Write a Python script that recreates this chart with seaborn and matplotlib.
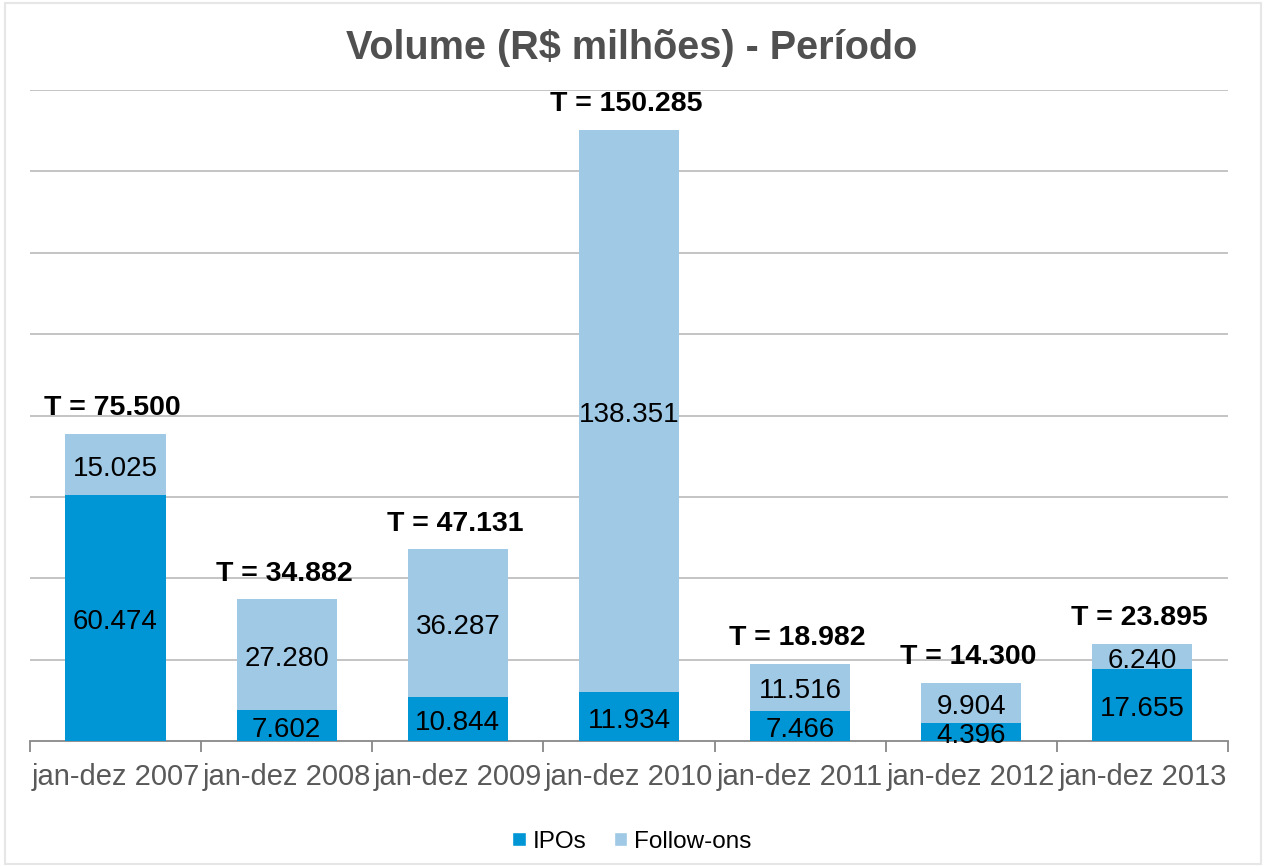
import matplotlib
matplotlib.use("Agg")
import matplotlib.pyplot as plt
import seaborn as sns
import pandas as pd
import numpy as np
from matplotlib.patches import Patch

periods = ["jan-dez 2007", "jan-dez 2008", "jan-dez 2009", "jan-dez 2010",
           "jan-dez 2011", "jan-dez 2012", "jan-dez 2013"]
ipos = [60474, 7602, 10844, 11934, 7466, 4396, 17655]
follow_ons = [15025, 27280, 36287, 138351, 11516, 9904, 6240]
totals = [75500, 34882, 47131, 150285, 18982, 14300, 23895]

IPO_COLOR = "#0096D6"
FOL_COLOR = "#9FC9E5"
GRAY = "#595959"


def fmt(v):
    return f"{v:,.0f}".replace(",", ".")


sns.set_style("white")
plt.rcParams['font.family'] = ['Liberation Sans', 'DejaVu Sans']

df = pd.DataFrame({"period": periods, "ipo": ipos, "fol": follow_ons})
df["stack"] = df["ipo"] + df["fol"]

fig = plt.figure(figsize=(12.64, 8.66), dpi=100)
ax = fig.add_axes([0.0237, 0.1443, 0.9478, 0.7517])

sns.barplot(data=df, x="period", y="stack", color=FOL_COLOR, width=0.585,
            saturation=1, linewidth=0, ax=ax, zorder=3)
sns.barplot(data=df, x="period", y="ipo", color=IPO_COLOR, width=0.585,
            saturation=1, linewidth=0, ax=ax, zorder=3)

ax.set_ylim(0, 160000)
ax.set_xlim(-0.5, len(periods) - 0.5)
ax.set_yticks(np.arange(20000, 160001, 20000))
ax.set_yticklabels([])
ax.yaxis.grid(True, color="#BFBFBF", linewidth=1.3, zorder=0)
ax.tick_params(axis="y", length=0)
ax.set_xlabel("")
ax.set_ylabel("")

for s in ["top", "right", "left"]:
    ax.spines[s].set_visible(False)
ax.spines["bottom"].set_color("#888888")
ax.spines["bottom"].set_linewidth(1.3)

ax.set_xticks(np.arange(-0.5, len(periods)), minor=True)
ax.tick_params(axis="x", which="minor", bottom=True, length=8, width=1.3,
               color="#888888", direction="out")
ax.tick_params(axis="x", which="major", length=0, pad=16, labelsize=21,
               labelcolor=GRAY)

for i in range(len(periods)):
    ax.annotate(fmt(ipos[i]), (i, ipos[i] / 2), xytext=(0, -3),
                textcoords="offset points", ha="center", va="center",
                fontsize=20, color="black", zorder=5)
    ax.annotate(fmt(follow_ons[i]), (i, ipos[i] + follow_ons[i] / 2),
                xytext=(0, -3), textcoords="offset points", ha="center",
                va="center", fontsize=20, color="black", zorder=5)
    ax.annotate(f"T = {fmt(totals[i])}", (i, ipos[i] + follow_ons[i]),
                xytext=(-2, 9), textcoords="offset points", ha="center",
                va="bottom", fontsize=20.5, fontweight="bold", color="black")

fig.text(0.5, 0.945, "Volume (R$ milhões) - Período", ha="center",
         va="center", fontsize=28.5, fontweight="bold", color="#505050")

handles = [Patch(facecolor=IPO_COLOR, label="IPOs"),
           Patch(facecolor=FOL_COLOR, label="Follow-ons")]
leg = fig.legend(handles=handles, loc="center", bbox_to_anchor=(0.5, 0.028),
                 ncol=2, frameon=False, fontsize=17.5, handlelength=0.55,
                 handleheight=0.55, handletextpad=0.3, columnspacing=1.1)
for t in leg.get_texts():
    t.set_color("black")

fig.patches.append(plt.Rectangle((0.004, 0.002), 0.994, 0.995,
                                 transform=fig.transFigure, fill=False,
                                 edgecolor="#E6E6E6", linewidth=1.5))

fig.savefig("out.png", dpi=100)
